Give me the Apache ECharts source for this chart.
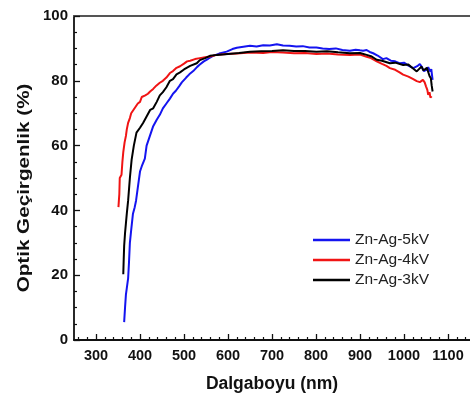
<!DOCTYPE html>
<html>
<head>
<meta charset="utf-8">
<script src="https://cdn.jsdelivr.net/npm/echarts@6/dist/echarts.min.js"></script>
<style>html,body{margin:0;padding:0;background:#fff}#c{width:470px;height:399px}</style>
</head>
<body>
<div id="c"></div>
<script>
// Tick labels / tick positions
var xMajorTicks = [300, 400, 500, 600, 700, 800, 900, 1000, 1100];
var xMinorTicks = [260, 280, 320, 340, 360, 380, 420, 440, 460, 480, 520, 540, 560, 580, 620, 640, 660, 680, 720, 740, 760, 780, 820, 840, 860, 880, 920, 940, 960, 980, 1020, 1040, 1060, 1080, 1120, 1140];
var seriesNames = ['Zn-Ag-5kV', 'Zn-Ag-4kV', 'Zn-Ag-3kV'];
var yTitle = 'Optik Geçirgenlik (%)';
var xTitle = 'Dalgaboyu (nm)';

// Zn-Ag-5kV
var x5 = [364, 366, 368, 370, 373, 375, 377, 380, 384, 388, 391, 395, 400, 405, 411, 415, 420, 425, 430, 438, 445, 452, 460, 468, 475, 482, 490, 495, 505, 512, 521, 530, 536, 545, 555, 566, 580, 597, 610, 620, 635, 650, 665, 680, 695, 711, 725, 740, 755, 770, 785, 801, 815, 830, 845, 860, 877, 890, 900, 907, 915, 922, 930, 940, 952, 960, 970, 980, 991, 1000, 1010, 1021, 1030, 1036, 1040, 1045, 1051, 1055, 1059, 1062, 1065];
var y5 = [5.5, 10, 14, 16, 19, 24, 30, 34, 39, 41, 43, 47, 52, 54, 56, 60, 62, 64, 66, 68, 69.5, 71.5, 73, 74.5, 76, 77, 78.5, 79.5, 81, 82, 83, 84.3, 85, 86, 86.8, 87.7, 88.4, 89, 89.8, 90.2, 90.5, 90.8, 90.6, 91, 90.9, 91.3, 90.9, 90.8, 90.6, 90.7, 90.3, 90.3, 90.0, 89.8, 90.0, 89.5, 89.3, 89.6, 89.4, 89.3, 89.5, 88.9, 88.5, 87.8, 86.7, 87.0, 86.2, 86.0, 85.4, 85.6, 84.7, 83.9, 84.5, 85.2, 84.4, 83.0, 83.4, 84.2, 82.9, 83.6, 80.3];

// Zn-Ag-4kV
var x4 = [351, 352, 353, 354, 355, 357, 358, 360, 362, 365, 368, 370, 373, 377, 380, 385, 390, 395, 400, 404, 407, 412, 418, 423, 430, 437, 445, 452, 460, 468, 475, 483, 491, 500, 507, 514, 525, 536, 548, 559, 575, 597, 620, 650, 680, 700, 725, 750, 775, 801, 825, 850, 877, 900, 915, 925, 938, 950, 960, 968, 980, 990, 998, 1010, 1020, 1029, 1036, 1043, 1047, 1050, 1053, 1055, 1058, 1060, 1063];
var y4 = [41, 43, 45, 50, 50.5, 50, 51, 55, 58, 61, 63, 65, 67, 68.5, 70, 71, 72, 73, 73.5, 75, 75, 75.5, 76, 76.7, 77.5, 78.5, 79.4, 80, 81, 82.4, 83, 84, 84.5, 85.3, 86, 86.2, 86.7, 87, 87.3, 87.5, 88, 88.3, 88.4, 88.7, 88.6, 88.9, 88.7, 88.5, 88.6, 88.3, 88.4, 88.1, 88.0, 88.1, 87.4, 87, 86, 85.2, 84.6, 83.9, 83.4, 82.6, 81.9, 81.3, 80.6, 79.9, 79.6, 80.3, 79.5, 78.3, 77.2, 75.7, 76.5, 74.8, 75.2];

// Zn-Ag-3kV
var x3 = [362, 363, 364, 366, 368, 370, 373, 377, 381, 386, 392, 400, 407, 415, 423, 430, 438, 445, 452, 460, 468, 475, 483, 491, 500, 506, 514, 529, 536, 548, 559, 575, 600, 625, 650, 675, 700, 725, 750, 775, 801, 825, 850, 877, 900, 915, 925, 938, 950, 968, 980, 998, 1010, 1020, 1029, 1034, 1040, 1044, 1048, 1052, 1055, 1058, 1061, 1063, 1065];
var y3 = [20.3, 25, 29, 33, 36, 39, 43, 50, 55.7, 60, 64, 65.5, 67, 69, 71, 71.5, 73.5, 75.5, 76.5, 78, 80, 80.5, 82, 82.6, 83.5, 84, 84.6, 85.4, 86.4, 87, 87.7, 88, 88.3, 88.6, 89, 89.1, 89.2, 89.4, 89.2, 89.2, 89.0, 89.1, 88.8, 88.5, 88.6, 88, 87.6, 86.5, 86.2, 85.4, 85.6, 84.9, 85.0, 83.9, 82.9, 83.6, 84.4, 83.2, 82.9, 84, 83.4, 81.5, 80.8, 78.5, 76.7];

function pairs(xs, ys) { return xs.map(function (x, i) { return [x, ys[i]]; }); }

var chart = echarts.init(document.getElementById('c'), null, { renderer: 'canvas' });
var font = 'Arial, "Liberation Sans", sans-serif';
chart.setOption({
  animation: false,
  backgroundColor: '#fff',
  grid: { left: 74, right: 0, top: 16, bottom: 59, outerBoundsMode: 'none' },
  legend: {
    orient: 'vertical', left: 308, top: 226, icon: 'rect', itemWidth: 37, itemHeight: 2.5, itemGap: 2,
    data: seriesNames,
    textStyle: { fontFamily: font, fontSize: 15.5, lineHeight: 18, color: '#222', padding: [0, 0, 0, 0] }
  },
  graphic: [
    {
      type: 'text', x: 25, y: 188, rotation: Math.PI / 2, scaleX: 1.29, scaleY: 1,
      style: { text: yTitle, fontFamily: font, fontSize: 16, fontWeight: 'bold', fill: '#111', align: 'center', verticalAlign: 'middle' }
    }
  ],
  xAxis: [
    {
      type: 'value', min: 250, max: 1150, position: 'bottom',
      axisLine: { show: true, lineStyle: { color: '#111', width: 1.8 } },
      axisTick: { show: true, inside: true, length: 6, customValues: xMajorTicks, lineStyle: { color: '#111', width: 1.3 } },
      axisLabel: { customValues: xMajorTicks, margin: 8, fontFamily: font, fontSize: 14.5, fontWeight: 'bold', color: '#111',
        formatter: function (v) { return String(v); } },
      splitLine: { show: false },
      name: xTitle, nameLocation: 'middle', nameGap: 35,
      nameTextStyle: { fontFamily: font, fontSize: 17.5, fontWeight: 'bold', color: '#111' }
    },
    {
      type: 'value', min: 250, max: 1150, position: 'bottom', gridIndex: 0,
      axisLine: { show: false },
      axisTick: { show: true, inside: true, length: 3, customValues: xMinorTicks, lineStyle: { color: '#111', width: 1.2 } },
      axisLabel: { show: false },
      splitLine: { show: false }
    },
    {
      type: 'value', min: 250, max: 1150, position: 'top', gridIndex: 0,
      axisLine: { show: true, lineStyle: { color: '#555', width: 1.8 } },
      axisTick: { show: false }, axisLabel: { show: false }, splitLine: { show: false }
    }
  ],
  yAxis: {
    type: 'value', min: 0, max: 100, interval: 20,
    axisLine: { show: true, lineStyle: { color: '#111', width: 1.8 } },
    axisTick: { show: true, inside: true, length: 6, lineStyle: { color: '#111', width: 1.3 } },
    minorTick: { show: true, splitNumber: 4, length: 3, lineStyle: { color: '#111', width: 1.2 } },
    axisLabel: { margin: 6, fontFamily: font, fontSize: 15, fontWeight: 'bold', color: '#111' },
    splitLine: { show: false },
    minorSplitLine: { show: false }
  },
  series: [
    { name: seriesNames[0], type: 'line', xAxisIndex: 0, symbol: 'none', data: pairs(x5, y5), lineStyle: { color: '#1414f0', width: 2 }, itemStyle: { color: '#1414f0' } },
    { name: seriesNames[1], type: 'line', xAxisIndex: 0, symbol: 'none', data: pairs(x4, y4), lineStyle: { color: '#f01414', width: 2 }, itemStyle: { color: '#f01414' } },
    { name: seriesNames[2], type: 'line', xAxisIndex: 0, symbol: 'none', data: pairs(x3, y3), lineStyle: { color: '#000', width: 2 }, itemStyle: { color: '#000' } }
  ]
});
</script>
</body>
</html>
